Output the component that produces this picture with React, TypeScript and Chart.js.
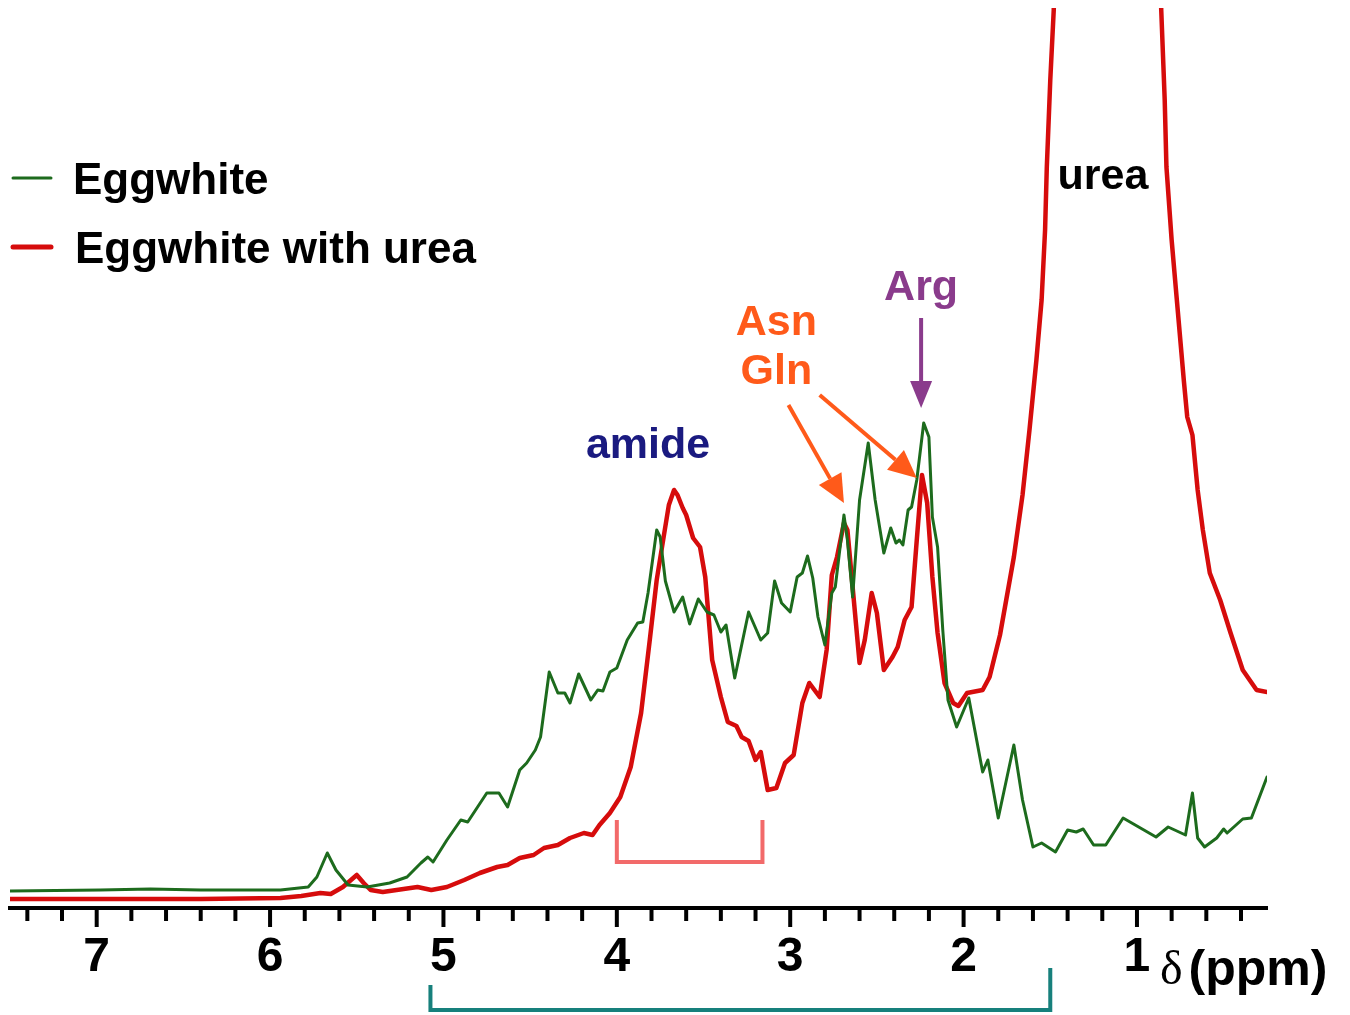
import React, { useEffect, useRef } from 'react';
import { Chart, registerables } from 'chart.js';

Chart.register(...registerables);

// [chemical shift (ppm), intensity (a.u.)]
const EGGWHITE: [number, number][] = [
  [7.50, 1.7], [6.98, 1.8], [6.69, 1.9], [6.40, 1.8], [6.11, 1.8], [5.94, 1.8], [5.78, 2.1], [5.73, 3.1],
  [5.67, 5.5], [5.62, 3.8], [5.55, 2.3], [5.44, 2.1], [5.31, 2.5], [5.21, 3.1], [5.13, 4.5], [5.09, 5.1],
  [5.06, 4.6], [4.98, 6.8], [4.90, 8.8], [4.86, 8.6], [4.75, 11.5], [4.68, 11.5], [4.63, 10.1], [4.56, 13.8],
  [4.52, 14.5], [4.47, 15.8], [4.44, 17.1], [4.39, 23.6], [4.34, 21.5], [4.30, 21.5], [4.27, 20.5], [4.22, 23.4],
  [4.15, 20.8], [4.11, 21.8], [4.08, 21.7], [4.04, 23.6], [4.00, 24.0], [3.94, 26.8], [3.88, 28.5], [3.85, 28.6],
  [3.82, 31.5], [3.77, 37.8], [3.75, 37.1], [3.72, 32.7], [3.67, 29.6], [3.62, 31.1], [3.58, 28.4], [3.53, 30.9],
  [3.48, 29.6], [3.44, 29.3], [3.40, 27.6], [3.37, 28.3], [3.32, 23.0], [3.24, 29.6], [3.17, 26.8], [3.13, 27.5],
  [3.09, 32.7], [3.05, 30.5], [3.00, 29.6], [2.96, 33.1], [2.93, 33.5], [2.90, 35.2], [2.87, 33.0], [2.84, 29.1],
  [2.80, 26.3], [2.76, 31.5], [2.74, 32.1], [2.69, 39.3], [2.67, 36.8], [2.64, 31.1], [2.60, 40.8], [2.55, 46.5],
  [2.51, 40.8], [2.46, 35.5], [2.42, 38.0], [2.39, 36.5], [2.37, 36.8], [2.35, 36.3], [2.32, 39.8], [2.30, 40.1],
  [2.27, 42.8], [2.23, 48.5], [2.20, 47.1], [2.18, 39.1], [2.15, 36.1], [2.12, 27.8], [2.09, 20.8], [2.04, 18.1],
  [1.97, 21.0], [1.89, 13.6], [1.86, 14.8], [1.80, 9.0], [1.71, 16.3], [1.66, 10.8], [1.60, 6.1], [1.55, 6.5],
  [1.47, 5.6], [1.40, 7.8], [1.35, 7.6], [1.31, 7.9], [1.25, 6.3], [1.18, 6.3], [1.08, 9.0], [0.98, 8.0],
  [0.89, 7.1], [0.82, 8.1], [0.72, 7.3], [0.68, 11.5], [0.65, 7.0], [0.61, 6.1], [0.54, 7.0], [0.50, 7.9],
  [0.48, 7.5], [0.39, 8.9], [0.34, 9.0], [0.25, 13.1],
];

const EGGWHITE_UREA: [number, number][] = [
  [7.50, 0.9], [6.98, 0.9], [6.40, 0.9], [5.94, 1.0], [5.82, 1.2], [5.71, 1.5], [5.65, 1.4], [5.58, 2.1],
  [5.50, 3.3], [5.46, 2.5], [5.42, 1.8], [5.35, 1.6], [5.27, 1.8], [5.15, 2.1], [5.07, 1.8], [4.98, 2.1],
  [4.88, 2.8], [4.79, 3.5], [4.69, 4.1], [4.63, 4.3], [4.56, 5.0], [4.48, 5.3], [4.42, 6.0], [4.34, 6.3],
  [4.27, 7.0], [4.19, 7.5], [4.14, 7.3], [4.10, 8.3], [4.04, 9.5], [3.98, 11.1], [3.92, 14.1], [3.86, 19.5],
  [3.81, 26.8], [3.77, 32.8], [3.73, 37.1], [3.70, 40.3], [3.67, 41.8], [3.65, 41.3], [3.62, 40.0], [3.60, 39.3],
  [3.56, 37.0], [3.52, 36.1], [3.49, 33.1], [3.45, 24.8], [3.40, 21.1], [3.36, 18.6], [3.31, 18.2], [3.28, 17.1],
  [3.24, 16.7], [3.20, 14.8], [3.17, 15.6], [3.13, 11.8], [3.08, 12.0], [3.03, 14.5], [2.98, 15.3], [2.93, 20.5],
  [2.89, 22.5], [2.86, 21.8], [2.83, 21.1], [2.79, 25.8], [2.76, 33.3], [2.73, 35.1], [2.69, 38.5], [2.67, 37.8],
  [2.64, 32.1], [2.60, 24.5], [2.57, 26.8], [2.53, 31.5], [2.50, 29.5], [2.46, 23.8], [2.41, 25.1], [2.38, 26.1],
  [2.34, 28.8], [2.30, 30.1], [2.27, 36.8], [2.24, 43.3], [2.21, 40.5], [2.18, 33.1], [2.15, 27.5], [2.11, 22.5],
  [2.06, 20.5], [2.03, 20.2], [1.98, 21.5], [1.89, 21.8], [1.85, 23.1], [1.79, 27.3], [1.71, 35.1], [1.66, 41.3],
  [1.62, 47.8], [1.58, 54.8], [1.55, 60.8], [1.53, 67.8], [1.52, 74.1], [1.50, 82.8], [1.48, 89.8], [1.45, 115],
  [1.35, 250], [1.18, 450], [1.00, 250], [0.90, 115], [0.86, 89.8], [0.84, 80.8], [0.83, 74.1], [0.80, 66.8],
  [0.77, 60.8], [0.73, 52.8], [0.71, 49.1], [0.68, 47.3], [0.65, 41.8], [0.62, 37.8], [0.58, 33.5], [0.52, 30.8],
  [0.46, 27.5], [0.39, 23.8], [0.31, 21.8], [0.25, 21.6],
];

const SERIES_LABELS = ['Eggwhite', 'Eggwhite with urea'];
const MAJOR_TICKS = [7, 6, 5, 4, 3, 2, 1];
const MINOR_TICKS = [
  7.4, 7.2, 6.8, 6.6, 6.4, 6.2, 5.8, 5.6, 5.4, 5.2, 4.8, 4.6, 4.4, 4.2, 3.8, 3.6, 3.4, 3.2,
  2.8, 2.6, 2.4, 2.2, 1.8, 1.6, 1.4, 1.2, 0.8, 0.6, 0.4,
];
const X_MIN = 0.25;
const X_MAX = 7.5;
const Y_MAX = 90;

const GREEN = '#1d6b1d';
const RED = '#d60c0c';
const SANS = '"Liberation Sans", Arial, Helvetica, sans-serif';
const SERIF = '"Liberation Serif", "DejaVu Serif", serif';

function drawArrow(ctx: CanvasRenderingContext2D, x1: number, y1: number, x2: number, y2: number,
  color: string, lw: number, headLen: number, headHalf: number) {
  const ang = Math.atan2(y2 - y1, x2 - x1);
  const bx = x2 - headLen * Math.cos(ang);
  const by = y2 - headLen * Math.sin(ang);
  ctx.strokeStyle = color;
  ctx.fillStyle = color;
  ctx.lineWidth = lw;
  ctx.lineCap = 'butt';
  ctx.beginPath();
  ctx.moveTo(x1, y1);
  ctx.lineTo(bx, by);
  ctx.stroke();
  ctx.beginPath();
  ctx.moveTo(x2, y2);
  ctx.lineTo(bx + headHalf * Math.sin(ang), by - headHalf * Math.cos(ang));
  ctx.lineTo(bx - headHalf * Math.sin(ang), by + headHalf * Math.cos(ang));
  ctx.closePath();
  ctx.fill();
}

const annotationPlugin = {
  id: 'nmrAnnotations',
  afterDraw(chart: any) {
    const { ctx, chartArea, scales } = chart;
    const xs = scales.x;
    const ys = scales.y;
    const px = (v: number) => xs.getPixelForValue(v);
    const py = (v: number) => ys.getPixelForValue(v);
    const bottom = chartArea.bottom;
    ctx.save();

    // tick marks
    ctx.strokeStyle = '#000';
    ctx.lineWidth = 4;
    ctx.lineCap = 'butt';
    xs.ticks.forEach((t: any) => {
      const major = MAJOR_TICKS.includes(t.value);
      const x = px(t.value);
      ctx.beginPath();
      ctx.moveTo(x, bottom);
      ctx.lineTo(x, bottom + (major ? 19 : 13));
      ctx.stroke();
    });

    // axis title δ (ppm)
    ctx.fillStyle = '#000';
    ctx.textBaseline = 'alphabetic';
    ctx.textAlign = 'left';
    ctx.font = `48px ${SERIF}`;
    const tx = px(1) + 23;
    ctx.fillText('δ', tx, bottom + 76);
    const dw = ctx.measureText('δ').width;
    ctx.font = `bold 50px ${SANS}`;
    ctx.fillText('(ppm)', tx + dw + 6, bottom + 77);

    // legend
    const legendRows = [
      { label: SERIES_LABELS[0], color: GREEN, lw: 3, y: 178, tx: 73 },
      { label: SERIES_LABELS[1], color: RED, lw: 5, y: 247, tx: 75 },
    ];
    legendRows.forEach((r) => {
      ctx.strokeStyle = r.color;
      ctx.lineWidth = r.lw;
      ctx.lineCap = 'round';
      ctx.beginPath();
      ctx.moveTo(13, r.y);
      ctx.lineTo(51, r.y);
      ctx.stroke();
      ctx.fillStyle = '#000';
      ctx.font = `bold 44px ${SANS}`;
      ctx.textAlign = 'left';
      ctx.fillText(r.label, r.tx, r.y + 16);
    });

    // peak labels
    const label = (text: string, ppm: number, inten: number, color: string) => {
      ctx.fillStyle = color;
      ctx.font = `bold 43px ${SANS}`;
      ctx.textAlign = 'center';
      ctx.textBaseline = 'alphabetic';
      ctx.fillText(text, px(ppm), py(inten));
    };
    label('amide', 3.82, 45.0, '#1a1a80');
    label('Asn', 3.08, 57.3, '#ff5a1a');
    label('Gln', 3.08, 52.4, '#ff5a1a');
    label('Arg', 2.245, 60.8, '#8a3b8c');
    label('urea', 1.196, 71.9, '#000');

    // arrows
    drawArrow(ctx, px(3.01), py(50.3), px(2.69), py(40.5), '#ff5a1a', 4, 28, 13);
    drawArrow(ctx, px(2.83), py(51.3), px(2.27), py(43.0), '#ff5a1a', 4, 28, 13);
    drawArrow(ctx, px(2.245), py(59.0), px(2.245), py(50.0), '#8a3b8c', 4, 27, 11);

    // amide bracket
    ctx.strokeStyle = '#f26a6a';
    ctx.lineWidth = 4;
    ctx.lineJoin = 'miter';
    ctx.lineCap = 'butt';
    ctx.beginPath();
    ctx.moveTo(px(4.0), py(8.8));
    ctx.lineTo(px(4.0), py(4.6));
    ctx.lineTo(px(3.16), py(4.6));
    ctx.lineTo(px(3.16), py(8.8));
    ctx.stroke();

    // region bracket under axis
    ctx.strokeStyle = '#17807c';
    ctx.beginPath();
    ctx.moveTo(px(5.075), bottom + 77);
    ctx.lineTo(px(5.075), bottom + 102);
    ctx.lineTo(px(1.50), bottom + 102);
    ctx.lineTo(px(1.50), bottom + 60);
    ctx.stroke();

    ctx.restore();
  },
};

export default function App() {
  const canvasRef = useRef<HTMLCanvasElement | null>(null);

  useEffect(() => {
    const canvas = canvasRef.current;
    if (!canvas) return;
    const chart = new Chart(canvas, {
      type: 'line',
      data: {
        datasets: [
          {
            label: SERIES_LABELS[0],
            data: EGGWHITE.map(([x, y]) => ({ x, y })),
            borderColor: GREEN,
            borderWidth: 3,
            pointRadius: 0,
            tension: 0,
            fill: false,
            borderJoinStyle: 'round',
            borderCapStyle: 'round',
            order: 0,
          },
          {
            label: SERIES_LABELS[1],
            data: EGGWHITE_UREA.map(([x, y]) => ({ x, y })),
            borderColor: RED,
            borderWidth: 4.5,
            pointRadius: 0,
            tension: 0,
            fill: false,
            borderJoinStyle: 'round',
            borderCapStyle: 'round',
            order: 1,
          },
        ],
      },
      options: {
        responsive: false,
        maintainAspectRatio: false,
        animation: false,
        devicePixelRatio: 1,
        layout: { padding: { left: 10, right: 83, top: 8, bottom: 0 } },
        plugins: {
          legend: { display: false },
          tooltip: { enabled: false },
        },
        scales: {
          x: {
            type: 'linear',
            reverse: true,
            min: X_MIN,
            max: X_MAX,
            afterBuildTicks: (scale: any) => {
              const vals = [...MAJOR_TICKS, ...MINOR_TICKS].sort((a, b) => b - a);
              scale.ticks = vals.map((v) => ({ value: v }));
            },
            afterFit: (scale: any) => {
              scale.height = 107;
            },
            grid: { display: false, drawTicks: false },
            border: { display: true, color: '#000', width: 4 },
            ticks: {
              autoSkip: false,
              maxRotation: 0,
              minRotation: 0,
              padding: 21,
              color: '#000',
              font: { family: SANS, size: 48, weight: 'bold' },
              callback: (v: any) => (MAJOR_TICKS.includes(Number(v)) ? String(v) : ''),
            },
          },
          y: {
            type: 'linear',
            display: false,
            min: 0,
            max: Y_MAX,
          },
        },
      },
      plugins: [annotationPlugin],
    });
    return () => chart.destroy();
  }, []);

  return (
    <div style={{ position: 'fixed', left: 0, top: 0, width: 1350, height: 1015, background: '#fff' }}>
      <canvas ref={canvasRef} width={1350} height={1015} style={{ display: 'block' }} />
    </div>
  );
}
